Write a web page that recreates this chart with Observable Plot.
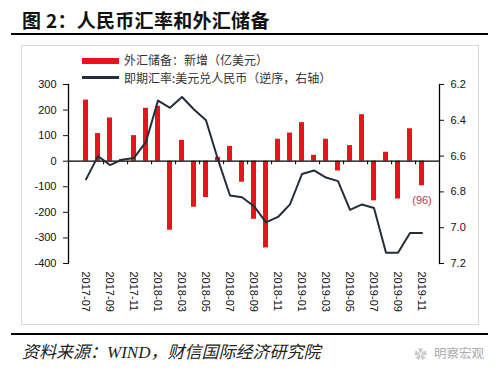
<!DOCTYPE html>
<html>
<head>
<meta charset="utf-8">
<script src="https://cdn.jsdelivr.net/npm/d3@7"></script>
<script src="https://cdn.jsdelivr.net/npm/@observablehq/plot@0.6"></script>
<style>
  html, body { margin: 0; padding: 0; background: #fff; }
  #page { position: relative; width: 500px; height: 372px; overflow: hidden; font-family: "Noto Sans CJK SC", sans-serif; }
  .abs { position: absolute; }
  #title { left: 22px; top: 6px; font-size: 19px; font-weight: bold; color: #111; letter-spacing: 0.3px; white-space: nowrap; }
  .rule { left: 11px; width: 477px; height: 2px; background: #000; }
  #box { left: 21px; top: 45px; width: 456px; height: 278px; border: 1px solid #d9d9d9; }
  .leg { font-size: 12px; color: #333; white-space: nowrap; line-height: 14px; }
  #footer { left: 22px; top: 338px; font-size: 17px; font-style: italic; color: #222; white-space: nowrap; font-family: "Liberation Serif", "Noto Sans CJK SC", serif; }
  #wm { left: 434px; top: 343px; font-size: 12.5px; color: #aaa; white-space: nowrap; }
  #wmicon { left: 414px; top: 344px; font-size: 13px; color: #ccc; }
  #chart { left: 0; top: 45px; }
</style>
</head>
<body>
<div id="page">
  <div id="title" class="abs">图 2：人民币汇率和外汇储备</div>
  <div class="abs rule" style="top:33px"></div>
  <div id="box" class="abs"></div>
  <div id="chart" class="abs"></div>
  <div class="abs" style="left:82px;top:58px;width:37px;height:6px;background:#e8141b"></div>
  <div class="abs leg" style="left:124px;top:53px">外汇储备：新增（亿美元）</div>
  <div class="abs" style="left:82px;top:76px;width:37px;height:3px;background:#252d3a"></div>
  <div class="abs leg" style="left:124px;top:71px">即期汇率:美元兑人民币（逆序，右轴）</div>
  <div class="abs rule" style="top:333px"></div>
  <div id="footer" class="abs">资料来源：WIND，财信国际经济研究院</div>
  <div id="wmicon" class="abs">✿</div>
  <div id="wm" class="abs">明察宏观</div>
</div>
<script>
const months = ["2017-07","2017-08","2017-09","2017-10","2017-11","2017-12",
  "2018-01","2018-02","2018-03","2018-04","2018-05","2018-06","2018-07","2018-08","2018-09","2018-10","2018-11","2018-12",
  "2019-01","2019-02","2019-03","2019-04","2019-05","2019-06","2019-07","2019-08","2019-09","2019-10","2019-11"];
// 外汇储备新增（亿美元）
const fxChange = [239,108,169,7,100,207,215,-270,81,-180,-142,15,58,-82,-227,-339,86,110,151,23,86,-38,61,182,-155,35,-148,127,-96];
// 即期汇率：美元兑人民币
const rate = [6.73,6.60,6.65,6.62,6.61,6.52,6.29,6.33,6.27,6.34,6.40,6.62,6.82,6.83,6.88,6.97,6.94,6.87,6.70,6.68,6.72,6.74,6.90,6.87,6.89,7.14,7.14,7.03,7.03];
const leftTicks = [300,200,100,0,-100,-200,-300,-400];
const rightTicks = [6.2,6.4,6.6,6.8,7.0,7.2];
const xLabels = months.filter((d, i) => i % 2 === 0);

// right axis (reversed): 6.2 ↔ 300, 7.2 ↔ -400
const toLeft = r => 300 - (r - 6.2) * 700;
const fromLeft = v => 6.2 + (300 - v) / 700;

const data = months.map((m, i) => ({month: m, fx: fxChange[i], rate: rate[i], rl: toLeft(rate[i])}));
const last = data[data.length - 1];

const W = 500, H = 280, mL = 68, mR = 61, mT = 39, mB = 62;
const step = (W - mL - mR) / months.length;

const chart = Plot.plot({
  width: W, height: H,
  marginLeft: mL, marginRight: mR, marginTop: mT, marginBottom: mB,
  style: {fontSize: "11px", fontFamily: "'Liberation Sans', Arial, sans-serif", color: "#111", background: "transparent"},
  x: {type: "band", domain: months, paddingInner: 0.6, paddingOuter: 0.3},
  y: {domain: [-400, 300], label: null},
  marks: [
    Plot.barY(data, {x: "month", y: "fx", fill: "#e8141b"}),
    Plot.ruleY([0], {stroke: "#000", strokeWidth: 1.3}),
    Plot.ruleX(xLabels.slice(1), {x: d => d, y1: 0, y2: -14, dx: -step / 2, stroke: "#000", strokeWidth: 1}),
    Plot.line(data, {x: "month", y: "rl", stroke: "#252d3a", strokeWidth: 2}),
    Plot.text([last], {x: "month", y: "fx", text: d => `(${Math.abs(d.fx)})`, dy: 15, fill: "#b5394d", fontSize: 11}),
    Plot.axisY(leftTicks, {anchor: "left", tickSize: 5, tickPadding: 7, label: null, tickFormat: d => d}),
    Plot.axisY(rightTicks.map(toLeft), {anchor: "right", tickSize: 4, tickPadding: 7, label: null, tickFormat: d => fromLeft(d).toFixed(1)}),
    Plot.frame({anchor: "left", stroke: "#000", strokeWidth: 1.3}),
    Plot.frame({anchor: "right", stroke: "#000", strokeWidth: 1.3}),
    Plot.axisX(xLabels, {tickSize: 0, tickPadding: 8, tickRotate: 90, label: null})
  ]
});
document.getElementById("chart").appendChild(chart);
</script>
</body>
</html>
